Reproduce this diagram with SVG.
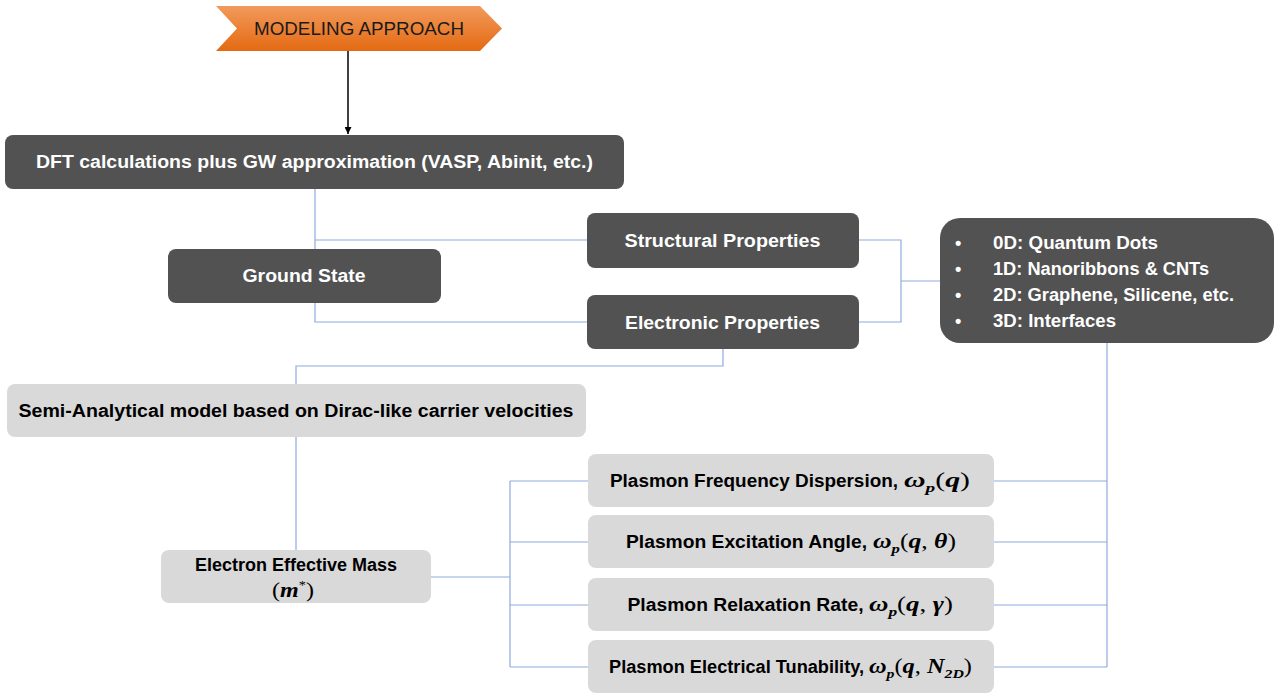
<svg xmlns="http://www.w3.org/2000/svg" width="1278" height="693" viewBox="0 0 1278 693">
<defs>
<linearGradient id="og" x1="0" y1="0" x2="0" y2="1">
<stop offset="0" stop-color="#F29A5C"/>
<stop offset="1" stop-color="#E46A12"/>
</linearGradient>
<marker id="ah" viewBox="0 0 10 10" refX="10" refY="5" markerWidth="7" markerHeight="7" markerUnits="userSpaceOnUse" orient="auto">
<path d="M0,0 L10,5 L0,10 z" fill="#000"/>
</marker>
<style>
.dk{fill:#525252}
.lt{fill:#D9D9D9}
.tw{font-family:"Liberation Sans",Arial,sans-serif;font-weight:bold;font-size:18px;fill:#fff}
.tb{font-family:"Liberation Sans",Arial,sans-serif;font-weight:bold;font-size:18px;fill:#000}
.m{font-family:"Liberation Serif","DejaVu Serif",serif;font-size:20px;fill:#000}
.mi{font-style:italic;font-weight:bold}
.c{fill:none;stroke:#8FAADC;stroke-width:1.2}
</style>
</defs>
<rect width="1278" height="693" fill="#fff"/>

<g id="connectors">
<line x1="348" y1="51" x2="348" y2="134" stroke="#000" stroke-width="1.5" marker-end="url(#ah)"/>
<path class="c" d="M315,189 V322 H587 M315,240 H587"/>
<path class="c" d="M859,240 H901 V322 H859 M901,281 H940"/>
<path class="c" d="M723,349 V366 H296 V384"/>
<path class="c" d="M296,437 V550"/>
<path class="c" d="M431,577 H510 M510,481 V667 M510,481 H588 M510,542 H588 M510,605 H588 M510,667 H588"/>
<path class="c" d="M1107,343 V667 M994,481 H1107 M994,542 H1107 M994,605 H1107 M994,667 H1107"/>
</g>

<g id="modeling-approach">
<polygon points="216,6 480,6 502,28.5 480,51 216,51 237,28.5" fill="url(#og)"/>
<text x="359" y="35" text-anchor="middle" font-family="Liberation Sans,Arial,sans-serif" font-size="19" fill="#1a1a1a" textLength="210" lengthAdjust="spacingAndGlyphs">MODELING APPROACH</text>
</g>

<g id="dft">
<rect class="dk" x="5" y="135" width="619" height="54" rx="8"/>
<text class="tw" x="314.5" y="168" text-anchor="middle" textLength="557" lengthAdjust="spacingAndGlyphs">DFT calculations plus GW approximation (VASP, Abinit, etc.)</text>
</g>

<g id="ground-state">
<rect class="dk" x="168" y="249" width="273" height="54" rx="8"/>
<text class="tw" x="304" y="282" text-anchor="middle" textLength="123" lengthAdjust="spacingAndGlyphs">Ground State</text>
</g>

<g id="structural">
<rect class="dk" x="587" y="213" width="272" height="55" rx="8"/>
<text class="tw" x="722.5" y="247" text-anchor="middle" textLength="196" lengthAdjust="spacingAndGlyphs">Structural Properties</text>
</g>

<g id="electronic">
<rect class="dk" x="587" y="295" width="272" height="54" rx="8"/>
<text class="tw" x="722.5" y="329" text-anchor="middle" textLength="195" lengthAdjust="spacingAndGlyphs">Electronic Properties</text>
</g>

<g id="dimensions">
<rect class="dk" x="940" y="218" width="334" height="125" rx="20"/>
<text class="tw" x="955" y="249">•</text>
<text class="tw" x="955" y="275">•</text>
<text class="tw" x="955" y="301">•</text>
<text class="tw" x="955" y="327">•</text>
<text class="tw" x="993" y="249" textLength="165" lengthAdjust="spacingAndGlyphs">0D: Quantum Dots</text>
<text class="tw" x="993" y="275" textLength="216" lengthAdjust="spacingAndGlyphs">1D: Nanoribbons &amp; CNTs</text>
<text class="tw" x="993" y="301" textLength="241" lengthAdjust="spacingAndGlyphs">2D: Graphene, Silicene, etc.</text>
<text class="tw" x="993" y="327" textLength="123" lengthAdjust="spacingAndGlyphs">3D: Interfaces</text>
</g>

<g id="semi-analytical">
<rect class="lt" x="7" y="384" width="579" height="53" rx="8"/>
<text class="tb" x="296" y="417" text-anchor="middle" textLength="555" lengthAdjust="spacingAndGlyphs">Semi-Analytical model based on Dirac-like carrier velocities</text>
</g>

<g id="effective-mass">
<rect class="lt" x="161" y="550" width="270" height="53" rx="8"/>
<text class="tb" x="296" y="571" text-anchor="middle" textLength="202" lengthAdjust="spacingAndGlyphs">Electron Effective Mass</text>
<text class="m" x="272" y="597" textLength="42" lengthAdjust="spacingAndGlyphs">(<tspan class="mi">m</tspan><tspan font-size="12" dy="-8">*</tspan><tspan dy="8">)</tspan></text>
</g>

<g id="plasmon-dispersion">
<rect class="lt" x="588" y="454" width="406" height="53" rx="8"/>
<text class="tb" x="610" y="487" textLength="288" lengthAdjust="spacingAndGlyphs">Plasmon Frequency Dispersion,</text>
<text class="m" x="904" y="487" textLength="66" lengthAdjust="spacingAndGlyphs"><tspan class="mi">ω</tspan><tspan class="mi" font-size="13" dy="5">p</tspan><tspan dy="-5">(</tspan><tspan class="mi">q</tspan>)</text>
</g>

<g id="plasmon-angle">
<rect class="lt" x="588" y="515" width="406" height="53" rx="8"/>
<text class="tb" x="626" y="548" textLength="241" lengthAdjust="spacingAndGlyphs">Plasmon Excitation Angle,</text>
<text class="m" x="873" y="548" textLength="83" lengthAdjust="spacingAndGlyphs"><tspan class="mi">ω</tspan><tspan class="mi" font-size="13" dy="5">p</tspan><tspan dy="-5">(</tspan><tspan class="mi">q</tspan>, <tspan class="mi">θ</tspan>)</text>
</g>

<g id="plasmon-relaxation">
<rect class="lt" x="588" y="578" width="406" height="53" rx="8"/>
<text class="tb" x="627.5" y="611" textLength="236" lengthAdjust="spacingAndGlyphs">Plasmon Relaxation Rate,</text>
<text class="m" x="869" y="611" textLength="84" lengthAdjust="spacingAndGlyphs"><tspan class="mi">ω</tspan><tspan class="mi" font-size="13" dy="5">p</tspan><tspan dy="-5">(</tspan><tspan class="mi">q</tspan>, <tspan class="mi">γ</tspan>)</text>
</g>

<g id="plasmon-tunability">
<rect class="lt" x="588" y="640" width="406" height="53" rx="8"/>
<text class="tb" x="609" y="673" textLength="255" lengthAdjust="spacingAndGlyphs">Plasmon Electrical Tunability,</text>
<text class="m" x="869" y="673" textLength="103" lengthAdjust="spacingAndGlyphs"><tspan class="mi">ω</tspan><tspan class="mi" font-size="13" dy="5">p</tspan><tspan dy="-5">(</tspan><tspan class="mi">q</tspan>, <tspan class="mi">N</tspan><tspan class="mi" font-size="13" dy="5">2D</tspan><tspan dy="-5">)</tspan></text>
</g>
</svg>
